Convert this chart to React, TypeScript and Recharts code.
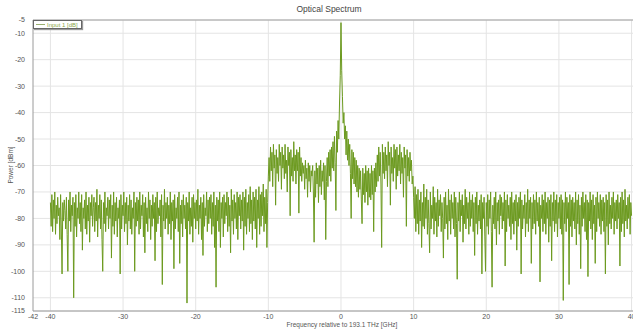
import React from "react";
import {
  CartesianGrid,
  Line,
  LineChart,
  ReferenceLine,
  XAxis,
  YAxis,
} from "recharts";

// sampling grid of the analyser trace (GHz relative to 193.1 THz)
const FREQ_START = -40;
const FREQ_STEP = 0.1;

// power readings [dBm] left to right
// -40.0 .. -10.1 GHz : noise floor
const leftNoise = [
  -74, -83, -71, -85, -73, -80, -70, -86, -75, -82,
  -72, -79, -76, -88, -71, -84, -101, -74, -81, -73,
  -77, -84, -72, -86, -100, -73, -81, -70, -85, -75,
  -79, -72, -110, -74, -83, -71, -87, -76, -80, -70,
  -82, -74, -85, -71, -92, -76, -80, -73, -84, -70,
  -86, -75, -81, -72, -89, -74, -79, -71, -83, -76,
  -72, -85, -74, -81, -69, -87, -75, -80, -71, -84,
  -73, -88, -100, -74, -82, -70, -85, -76, -79, -72,
  -84, -73, -80, -71, -95, -75, -83, -70, -86, -74,
  -81, -72, -87, -76, -80, -73, -101, -71, -84, -75,
  -79, -70, -85, -74, -82, -72, -90, -75, -81, -71,
  -84, -73, -86, -76, -80, -70, -100, -74, -83, -72,
  -81, -73, -86, -70, -84, -75, -79, -71, -87, -74,
  -93, -72, -82, -76, -85, -70, -80, -73, -88, -75,
  -83, -71, -80, -74, -96, -72, -85, -70, -82, -76,
  -79, -73, -87, -71, -105, -75, -81, -69, -84, -74,
  -80, -72, -86, -75, -82, -70, -88, -74, -81, -73,
  -99, -71, -84, -76, -80, -72, -85, -70, -97, -75,
  -82, -73, -87, -71, -80, -75, -84, -72, -112, -74,
  -81, -70, -86, -76, -83, -72, -89, -71, -80, -74,
  -84, -73, -81, -69, -86, -75, -80, -72, -88, -74,
  -94, -71, -83, -76, -79, -70, -85, -73, -82, -72,
  -80, -71, -86, -74, -83, -70, -91, -75, -106, -72,
  -81, -73, -85, -70, -91, -74, -80, -72, -87, -71,
  -82, -74, -79, -70, -85, -72, -83, -75, -93, -69,
  -81, -73, -86, -71, -80, -74, -84, -70, -88, -72,
  -79, -71, -84, -73, -81, -70, -92, -72, -83, -69,
  -86, -74, -80, -71, -85, -68, -82, -73, -88, -70,
  -81, -72, -84, -69, -91, -73, -80, -68, -86, -71,
  -83, -70, -79, -67, -85, -72, -82, -69, -91, -74,
];

// -10.0 .. -0.1 GHz : left sideband, valley and rising carrier skirt
const leftShoulder = [
  -64, -57, -66, -53, -62, -55, -68, -52, -61, -56,
  -75, -54, -63, -57, -66, -52, -60, -55, -69, -53,
  -61, -56, -65, -52, -63, -58, -70, -53, -60, -55,
  -79, -54, -64, -57, -66, -51, -62, -56, -67, -54,
  -62, -55, -78, -53, -64, -57, -66, -59, -63, -60,
  -69, -58, -65, -61, -72, -59, -66, -60, -70, -62,
  -64, -60, -70, -89, -62, -72, -59, -67, -61, -74,
  -60, -68, -58, -71, -62, -66, -59, -73, -60, -88,
  -66, -57, -68, -55, -64, -54, -66, -53, -61, -51,
  -62, -49, -59, -77, -47, -55, -43, -50, -36, -26,
];

// 0.0 .. 9.9 GHz : carrier peak, valley and right sideband
const rightShoulder = [
  -6, -24, -34, -44, -40, -50, -45, -56, -47, -58,
  -50, -60, -52, -63, -80, -54, -65, -55, -67, -57,
  -68, -58, -70, -60, -72, -61, -69, -62, -73, -82,
  -61, -71, -63, -74, -60, -70, -62, -75, -61, -72,
  -63, -73, -60, -71, -62, -85, -61, -70, -59, -68,
  -56, -66, -53, -64, -55, -67, -91, -52, -63, -55,
  -65, -53, -62, -56, -68, -51, -60, -55, -75, -53,
  -63, -57, -66, -52, -61, -54, -69, -53, -64, -56,
  -62, -52, -67, -55, -63, -57, -72, -53, -61, -56,
  -83, -54, -64, -57, -66, -55, -62, -58, -67, -64,
];

// 10.0 .. 40.0 GHz : noise floor
const rightNoise = [
  -72, -80, -68, -85, -71, -82, -69, -86, -73, -81,
  -70, -91, -74, -83, -67, -84, -72, -80, -69, -86,
  -73, -82, -93, -70, -84, -75, -80, -68, -86, -72,
  -81, -74, -87, -69, -83, -73, -79, -71, -85, -74,
  -80, -95, -72, -84, -70, -82, -75, -88, -69, -81,
  -73, -86, -71, -80, -74, -84, -70, -87, -72, -82,
  -103, -74, -81, -70, -85, -73, -79, -71, -89, -75,
  -82, -69, -84, -72, -80, -74, -86, -70, -83, -73,
  -80, -71, -85, -74, -94, -72, -82, -70, -86, -75,
  -81, -73, -84, -71, -101, -74, -80, -72, -87, -100,
  -74, -83, -71, -86, -73, -80, -70, -85, -106, -75,
  -82, -72, -84, -70, -90, -74, -81, -73, -86, -71,
  -79, -72, -84, -74, -81, -70, -98, -73, -85, -71,
  -80, -75, -83, -72, -88, -70, -82, -74, -86, -73,
  -81, -71, -92, -74, -83, -72, -80, -70, -101, -73,
  -84, -75, -80, -71, -87, -74, -82, -69, -85, -73,
  -80, -72, -97, -74, -84, -71, -82, -73, -86, -70,
  -81, -74, -83, -72, -104, -75, -80, -71, -85, -73,
  -82, -70, -86, -74, -80, -72, -89, -73, -83, -71,
  -96, -74, -81, -70, -85, -73, -82, -71, -87, -74,
  -80, -72, -84, -71, -86, -73, -111, -74, -82, -70,
  -85, -72, -80, -74, -105, -71, -83, -73, -87, -72,
  -81, -74, -84, -70, -90, -73, -82, -71, -86, -75,
  -99, -72, -83, -70, -80, -74, -85, -71, -88, -73,
  -102, -74, -81, -70, -84, -73, -88, -71, -82, -75,
  -97, -72, -85, -70, -80, -74, -83, -71, -86, -73,
  -81, -72, -85, -74, -101, -71, -83, -73, -90, -70,
  -82, -75, -84, -72, -80, -70, -86, -74, -81, -73,
  -84, -71, -80, -74, -98, -72, -85, -70, -82, -73,
  -87, -69, -81, -75, -84, -72, -80, -71, -86, -74,
  -79,
];

const xTicks = [-42.4, -40, -30, -20, -10, 0, 10, 20, 30, 40];
const xGrid = [-40, -30, -20, -10, 0, 10, 20, 30, 40];
const yTicks = [-115, -110, -100, -90, -80, -70, -60, -50, -40, -30, -20, -10, -5];

const power = [...leftNoise, ...leftShoulder, ...rightShoulder, ...rightNoise];
const data = power.map((p, i) => ({
  freq: Math.round((FREQ_START + i * FREQ_STEP) * 10) / 10,
  power: p,
}));

const FONT = "'Liberation Sans', Arial, sans-serif";
const TRACE = "#6c9a1f";

export default function App() {
  return (
    <div style={{ position: "absolute", left: 0, top: 0, width: 633, height: 333, fontFamily: FONT, background: "#fff", overflow: "hidden" }}>
      <LineChart width={633} height={333} data={data} margin={{ top: 20, right: 0, left: 0, bottom: 0 }}>
        <CartesianGrid stroke="#e4e4e4" horizontalValues={yTicks} verticalValues={xGrid} />
        <XAxis
          dataKey="freq"
          type="number"
          domain={[-42.4, 40.2]}
          ticks={xTicks}
          allowDataOverflow
          height={22}
          tick={{ fontSize: 7, fill: "#555", fontFamily: FONT }}
          tickFormatter={(v: number) => (v < -42 ? "-42" : String(v))}
          tickLine={false}
          tickSize={2}
          tickMargin={1}
          axisLine={{ stroke: "#9a9a9a" }}
          interval={0}
        />
        <YAxis
          type="number"
          domain={[-115, -5]}
          ticks={yTicks}
          allowDataOverflow
          width={33}
          tick={{ fontSize: 7, fill: "#555", fontFamily: FONT }}
          tickLine={false}
          axisLine={{ stroke: "#9a9a9a" }}
          interval={0}
        />
        <ReferenceLine y={-5} stroke="#a0a0a0" />
        <Line
          type="linear"
          dataKey="power"
          stroke={TRACE}
          strokeWidth={1}
          dot={false}
          isAnimationActive={false}
        />
      </LineChart>
      <div style={{ position: "absolute", left: 0, width: 658, top: 4, textAlign: "center", fontSize: 8.5, color: "#444" }}>
        Optical Spectrum
      </div>
      <div style={{ position: "absolute", left: 0, width: 684, top: 321, textAlign: "center", fontSize: 6.5, color: "#555" }}>
        Frequency relative to 193.1 THz [GHz]
      </div>
      <div style={{ position: "absolute", left: 10, top: 165, width: 0, height: 0 }}>
        <div style={{ position: "absolute", transform: "translate(-50%, -50%) rotate(-90deg)", whiteSpace: "nowrap", fontSize: 6.5, color: "#555" }}>
          Power [dBm]
        </div>
      </div>
      <div style={{ position: "absolute", left: 33, top: 20, width: 47, height: 7, border: "1px solid #666", background: "#fff", boxShadow: "1px 1px 1px #999", display: "flex", alignItems: "center", fontSize: 6, color: "#8aa84a" }}>
        <span style={{ display: "inline-block", width: 9, height: 1, background: "#9ab070", margin: "0 2px 0 2px" }} />
        Input 1 [dB]
      </div>
    </div>
  );
}
